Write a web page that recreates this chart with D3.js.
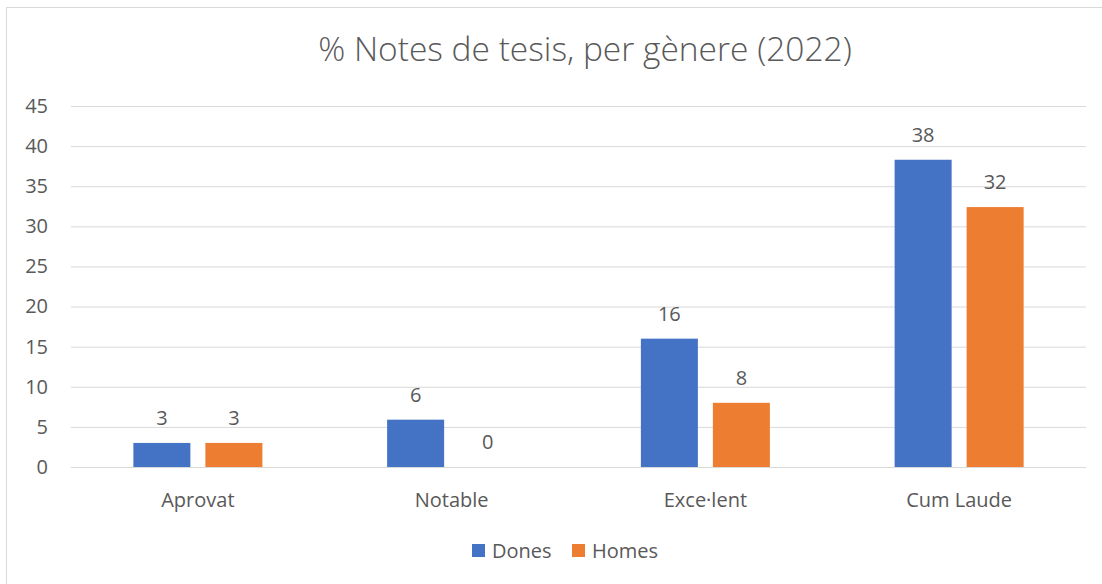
<!DOCTYPE html>
<html>
<head>
<meta charset="utf-8">
<script src="https://cdn.jsdelivr.net/npm/d3@7"></script>
<style>
  body { margin: 0; background: #fff; }
  text { font-family: "Open Sans", "Noto Sans", sans-serif; fill: #595959; }
</style>
</head>
<body>
<div id="chart"></div>
<script>
// values
const categories = ['Aprovat', 'Notable', 'Exce·lent', 'Cum Laude'];
const seriesNames = ['Dones', 'Homes'];
const dones = [3, 5.9, 16, 38.3];
const homes = [3, 0, 8, 32.4];
const yTicks = [0, 5, 10, 15, 20, 25, 30, 35, 40, 45];
const title = '% Notes de tesis, per gènere (2022)';

const colors = { Dones: '#4472C4', Homes: '#ED7D31' };
const width = 1102, height = 584;
const margins = { left: 71, right: 16, top: 106, bottom: 117 };

const svg = d3.select('#chart')
    .append('svg')
    .attr('width', width)
    .attr('height', height);

// chart frame
svg.append('rect')
    .attr('x', 6.5).attr('y', 7.5)
    .attr('width', width + 10).attr('height', height + 10)
    .attr('fill', 'none')
    .attr('stroke', '#d9d9d9');

svg.append('text')
    .attr('x', 585)
    .attr('y', 61)
    .attr('text-anchor', 'middle')
    .style('font-size', '33.5px')
    .style('font-weight', 300)
    .text(title);

const chartWidth = width - margins.left - margins.right;
const chartHeight = height - margins.top - margins.bottom;

const chart = svg.append('g')
    .attr('transform', `translate(${margins.left}, ${margins.top})`);

const x0 = d3.scaleBand()
    .domain(categories)
    .range([0, chartWidth])
    .paddingInner(0.4916)
    .paddingOuter(0.2458);

const x1 = d3.scaleBand()
    .domain(seriesNames)
    .range([0, x0.bandwidth()])
    .paddingInner(0.2083);

const y = d3.scaleLinear()
    .domain([0, 45])
    .range([chartHeight, 0]);

const yGrid = d3.axisLeft(y)
    .tickValues(yTicks)
    .tickSize(-chartWidth)
    .tickFormat('');

chart.append('g')
    .call(yGrid)
    .call(g => g.select('.domain').remove())
    .selectAll('line')
    .attr('stroke', '#d9d9d9')
    .attr('stroke-width', 1);

const yAxis = d3.axisLeft(y)
    .tickValues(yTicks)
    .tickSize(0)
    .tickPadding(23);

chart.append('g')
    .call(yAxis)
    .call(g => g.select('.domain').remove())
    .selectAll('text')
    .style('font-size', '20px')
    .attr('fill', '#595959');

const rows = categories.map((c, i) => ({
    category: c,
    values: [
        { name: 'Dones', value: dones[i] },
        { name: 'Homes', value: homes[i] }
    ]
}));

const groups = chart.selectAll('.group')
    .data(rows)
    .enter()
    .append('g')
    .attr('transform', d => `translate(${x0(d.category)}, 0)`);

groups.selectAll('rect')
    .data(d => d.values)
    .enter()
    .append('rect')
    .attr('x', d => x1(d.name))
    .attr('y', d => y(d.value))
    .attr('width', x1.bandwidth())
    .attr('height', d => chartHeight - y(d.value))
    .attr('fill', d => colors[d.name]);

groups.selectAll('.label')
    .data(d => d.values)
    .enter()
    .append('text')
    .attr('x', d => x1(d.name) + x1.bandwidth() / 2)
    .attr('y', d => y(d.value) - 18)
    .attr('text-anchor', 'middle')
    .style('font-size', '20px')
    .text(d => Math.round(d.value));

// category labels
chart.append('g')
    .attr('transform', `translate(0, ${chartHeight})`)
    .call(d3.axisBottom(x0).tickSize(0).tickPadding(26))
    .call(g => g.select('.domain').remove())
    .selectAll('text')
    .style('font-size', '20px')
    .attr('fill', '#595959');

// legend
const legend = svg.append('g')
    .attr('transform', 'translate(472, 544)');

const legendOffsets = [0, 100];
seriesNames.forEach((name, i) => {
    const item = legend.append('g')
        .attr('transform', `translate(${legendOffsets[i]}, 0)`);
    item.append('rect')
        .attr('width', 13).attr('height', 13)
        .attr('fill', colors[name]);
    item.append('text')
        .attr('x', 20)
        .attr('y', 14)
        .style('font-size', '20px')
        .text(name);
});
</script>
</body>
</html>
